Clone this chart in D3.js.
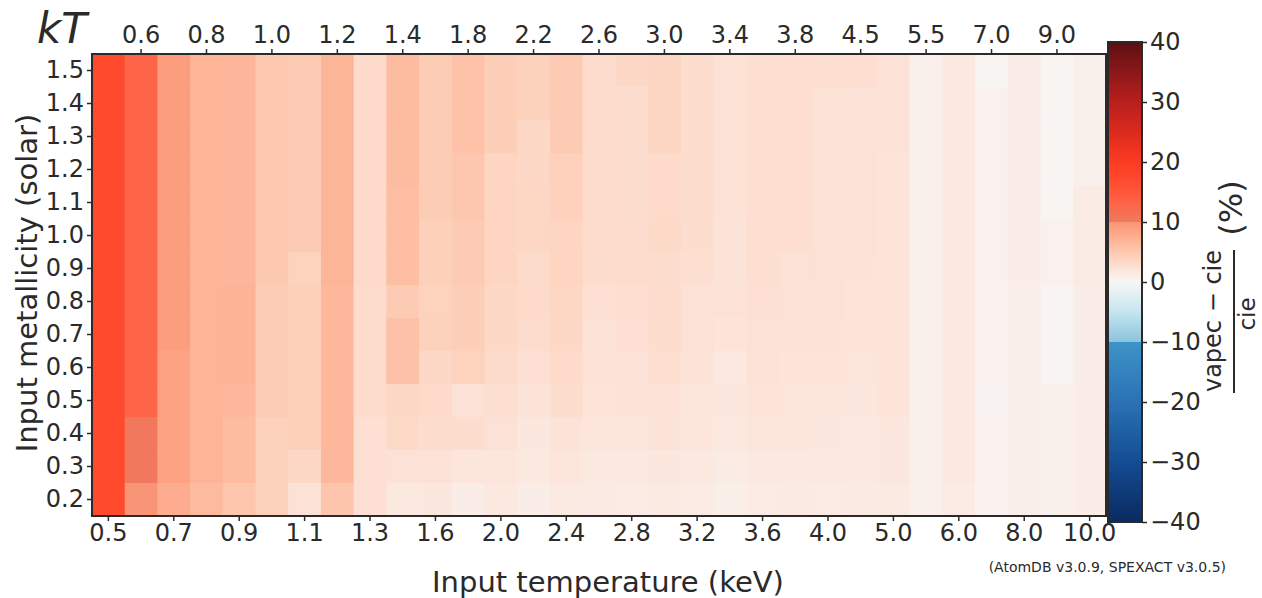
<!DOCTYPE html>
<html>
<head>
<meta charset="utf-8">
<script src="https://cdn.jsdelivr.net/npm/d3@7"></script>
<style>
  body { margin: 0; background: #fff; }
  text { font-family: "DejaVu Sans", sans-serif; fill: #2a2a2a; }
</style>
</head>
<body>
<svg id="chart" width="1262" height="598"></svg>
<script>
// ---------------- data ----------------
const temperatures = [0.5, 0.6, 0.7, 0.8, 0.9, 1.0, 1.1, 1.2, 1.3, 1.4, 1.6, 1.8, 2.0, 2.2, 2.4, 2.6,
  2.8, 3.0, 3.2, 3.4, 3.6, 3.8, 4.0, 4.5, 5.0, 5.5, 6.0, 7.0, 8.0, 9.0, 10.0];
const metallicity = [1.5, 1.4, 1.3, 1.2, 1.1, 1.0, 0.9, 0.8, 0.7, 0.6, 0.5, 0.4, 0.3, 0.2];
// (vapec - cie)/cie in %, one array per temperature, ordered like `metallicity`
const diffByTemperature = [
  [17, 17, 17, 17, 17, 17, 17, 17, 17, 17, 17, 17, 17, 17],
  [13, 13, 13, 13, 13, 13, 13, 13, 13, 13, 13, 10.3, 10.3, 9.9],
  [9.1, 9.1, 9.1, 9.1, 9.1, 9.1, 9.1, 9.1, 9.1, 8.6, 8.6, 8.6, 8.6, 7.7],
  [7.0, 7.0, 7.0, 7.0, 7.0, 7.0, 7.0, 7.0, 7.0, 7.0, 7.0, 7.0, 7.0, 6.4],
  [6.8, 6.8, 6.8, 6.8, 6.8, 6.8, 6.8, 7.1, 7.1, 7.1, 6.7, 6.3, 6.3, 5.2],
  [4.9, 4.9, 4.9, 4.9, 4.9, 4.9, 4.9, 4.6, 4.6, 4.6, 4.6, 4.0, 4.0, 4.0],
  [4.7, 4.7, 4.7, 4.7, 4.7, 4.7, 3.9, 4.2, 4.2, 4.2, 4.2, 4.2, 3.3, 2.3],
  [6.9, 6.9, 6.9, 6.9, 6.9, 6.9, 6.9, 6.7, 6.7, 6.7, 6.7, 6.7, 6.7, 5.3],
  [3.1, 3.1, 3.1, 3.1, 3.1, 3.1, 3.1, 2.9, 2.9, 2.9, 2.9, 2.5, 2.5, 2.5],
  [6.3, 6.3, 6.3, 6.3, 6.0, 6.0, 6.0, 4.8, 5.7, 5.7, 3.3, 3.2, 2.3, 1.6],
  [4.6, 4.6, 4.6, 4.6, 4.6, 4.2, 4.2, 3.9, 4.0, 3.3, 3.1, 2.8, 2.3, 1.8],
  [5.6, 5.6, 5.6, 5.1, 5.1, 4.7, 4.7, 4.4, 4.3, 3.9, 2.3, 2.8, 1.9, 1.1],
  [4.3, 4.3, 4.3, 3.7, 3.7, 3.7, 3.7, 3.3, 3.3, 3.0, 2.6, 2.3, 1.9, 1.7],
  [4.0, 4.0, 3.3, 3.3, 3.5, 3.5, 3.0, 3.1, 2.9, 2.5, 2.2, 1.8, 1.7, 1.1],
  [4.7, 4.7, 4.7, 4.1, 4.1, 3.7, 3.7, 3.5, 3.3, 3.1, 2.8, 2.2, 1.9, 1.5],
  [2.9, 2.9, 2.9, 2.9, 2.9, 2.9, 2.8, 2.5, 2.3, 2.3, 2.1, 1.9, 1.7, 1.4],
  [3.3, 2.8, 2.8, 2.8, 2.8, 2.9, 2.9, 2.7, 2.5, 2.3, 2.2, 2.0, 1.6, 1.3],
  [3.6, 3.6, 3.6, 3.1, 3.1, 3.2, 2.8, 2.9, 2.8, 2.6, 2.3, 2.2, 1.8, 1.5],
  [2.8, 2.8, 2.8, 2.8, 2.8, 2.8, 2.6, 2.4, 2.4, 2.2, 2.0, 1.9, 1.6, 1.3],
  [2.4, 2.4, 2.4, 2.4, 2.4, 2.2, 2.2, 2.3, 2.1, 1.6, 1.8, 1.6, 1.2, 1.0],
  [2.6, 2.6, 2.6, 2.6, 2.6, 2.6, 2.6, 2.5, 2.4, 2.3, 2.1, 1.9, 1.6, 1.3],
  [2.7, 2.7, 2.7, 2.7, 2.7, 2.7, 2.4, 2.3, 2.3, 2.1, 1.9, 1.9, 1.7, 1.4],
  [2.6, 2.4, 2.4, 2.4, 2.4, 2.4, 2.4, 2.3, 2.2, 2.1, 1.9, 1.8, 1.6, 1.3],
  [2.7, 2.3, 2.3, 2.4, 2.4, 2.4, 2.2, 2.1, 2.1, 1.9, 1.8, 1.6, 1.6, 1.4],
  [2.3, 2.3, 2.3, 2.1, 2.1, 2.1, 2.1, 2.1, 2.1, 2.1, 2.1, 1.8, 1.8, 1.5],
  [0.7, 0.7, 0.7, 0.7, 0.7, 0.7, 0.7, 0.7, 0.7, 0.7, 0.7, 0.7, 0.7, 0.7],
  [1.6, 1.6, 1.6, 1.6, 1.6, 1.6, 1.6, 1.6, 1.6, 1.6, 1.6, 1.6, 1.6, 1.3],
  [0.2, 0.6, 0.6, 0.6, 0.6, 0.6, 0.6, 0.5, 0.5, 0.5, 0.4, 0.5, 0.5, 0.5],
  [1.1, 1.1, 1.1, 1.1, 1.1, 1.1, 1.1, 1.0, 1.0, 1.0, 1.0, 1.0, 1.0, 1.0],
  [0.3, 0.3, 0.3, 0.3, 0.3, 0.6, 0.6, 0.2, 0.2, 0.2, 0.7, 0.7, 0.7, 0.7],
  [0.7, 0.7, 0.7, 0.7, 1.2, 1.2, 1.2, 1.1, 1.1, 1.1, 1.1, 1.1, 1.1, 1.1]
];
const colorbarTicks = [-40, -30, -20, -10, 0, 10, 20, 30, 40];

// ---------------- colour map ----------------
const cmapDomain = [-40, -30, -20, -10.001, -10, -5, 0, 1, 2, 3, 4, 5, 6, 7, 8, 9, 9.999, 10, 13, 17, 20, 25, 30, 35, 40];
const cmapRange = ["#0a2a62", "#134c92", "#2a72b5", "#3d93c7", "#8ac4dd", "#c5e5ef", "#f7f6f5",
  "#faeee8", "#fce5db", "#fddbcb", "#fdd2bd", "#fdc8b0", "#fdbea3", "#fdb497", "#fda98b", "#fd9f7f",
  "#f89476", "#ef7a5f", "#fe6448", "#ff4a2e", "#fc3b23", "#dc2a1e", "#b81f1d", "#8c1719", "#5c0f12"];
const color = d3.scaleLinear().domain(cmapDomain).range(cmapRange).interpolate(d3.interpolateRgb).clamp(true);

// ---------------- layout ----------------
const svg = d3.select("#chart");
const plot = { left: 92, right: 1106, top: 54, bottom: 516 };
const cbar = { left: 1108, width: 34, top: 42, bottom: 522 };
const fmt = d3.format(".1f");
const ink = "#2a2a2a";

const x = d3.scaleBand().domain(temperatures.map(fmt)).range([plot.left, plot.right]);
const y = d3.scaleBand().domain(metallicity.map(fmt)).range([plot.top, plot.bottom]);

const cells = [];
temperatures.forEach((t, i) => {
  metallicity.forEach((z, j) => {
    cells.push({ t: fmt(t), z: fmt(z), v: diffByTemperature[i][j] });
  });
});

svg.append("g").selectAll("rect").data(cells).join("rect")
  .attr("x", d => x(d.t))
  .attr("y", d => y(d.z))
  .attr("width", x.bandwidth() + 0.6)
  .attr("height", y.bandwidth() + 0.6)
  .attr("fill", d => color(d.v));

// frame
svg.append("rect")
  .attr("x", plot.left).attr("y", plot.top)
  .attr("width", plot.right - plot.left).attr("height", plot.bottom - plot.top)
  .attr("fill", "none").attr("stroke", ink).attr("stroke-width", 2);

function styleAxis(g) {
  g.select(".domain").remove();
  g.selectAll(".tick line").attr("stroke", ink).attr("stroke-width", 1.5);
  g.selectAll(".tick text").style("font-size", "24px").attr("fill", ink);
}

const bottomTicks = temperatures.filter((d, i) => i % 2 === 0).map(fmt);
const topTicks = temperatures.filter((d, i) => i % 2 === 1).map(fmt);

svg.append("g").attr("transform", `translate(0,${plot.bottom})`)
  .call(d3.axisBottom(x).tickValues(bottomTicks).tickSize(5).tickPadding(3))
  .call(styleAxis);
svg.append("g").attr("transform", `translate(0,${plot.top})`)
  .call(d3.axisTop(x).tickValues(topTicks).tickSize(5).tickPadding(6))
  .call(styleAxis);
svg.append("g").attr("transform", `translate(${plot.left},0)`)
  .call(d3.axisLeft(y).tickSize(5).tickPadding(3))
  .call(styleAxis);

// kT label
svg.append("text").attr("x", 37).attr("y", 43)
  .style("font-size", "42px").style("font-style", "italic").text("kT");

// axis titles
svg.append("text").attr("x", 608).attr("y", 592).attr("text-anchor", "middle")
  .style("font-size", "29px").text("Input temperature (keV)");
svg.append("text").attr("transform", "translate(37,283) rotate(-90)").attr("text-anchor", "middle")
  .style("font-size", "29px").text("Input metallicity (solar)");

// annotation
svg.append("text").attr("x", 1226).attr("y", 572).attr("text-anchor", "end")
  .style("font-size", "14px").text("(AtomDB v3.0.9, SPEXACT v3.0.5)");

// ---------------- colour bar ----------------
const yc = d3.scaleLinear().domain([-40, 40]).range([cbar.bottom, cbar.top]);
const nStrips = cbar.bottom - cbar.top;
svg.append("g").selectAll("rect").data(d3.range(nStrips)).join("rect")
  .attr("x", cbar.left).attr("width", cbar.width)
  .attr("y", i => cbar.top + i).attr("height", 1.2)
  .attr("fill", i => color(yc.invert(cbar.top + i + 0.5)));
svg.append("rect").attr("x", cbar.left).attr("y", cbar.top)
  .attr("width", cbar.width).attr("height", cbar.bottom - cbar.top)
  .attr("fill", "none").attr("stroke", ink).attr("stroke-width", 2);
svg.append("g").attr("transform", `translate(${cbar.left + cbar.width},0)`)
  .call(d3.axisRight(yc).tickValues(colorbarTicks).tickSize(5).tickPadding(3).tickFormat(d3.format("d")))
  .call(styleAxis);

// colour bar label: (vapec − cie)/cie (%)
svg.append("text").attr("transform", "translate(1221,321) rotate(-90)").attr("text-anchor", "middle")
  .style("font-size", "24px").text("vapec \u2212 cie");
svg.append("line").attr("x1", 1234).attr("x2", 1234).attr("y1", 250).attr("y2", 393)
  .attr("stroke", ink).attr("stroke-width", 2);
svg.append("text").attr("transform", "translate(1255,314) rotate(-90)").attr("text-anchor", "middle")
  .style("font-size", "23px").text("cie");
svg.append("text").attr("transform", "translate(1242,208) rotate(-90)").attr("text-anchor", "middle")
  .style("font-size", "32px").text("(%)");
</script>
</body>
</html>
